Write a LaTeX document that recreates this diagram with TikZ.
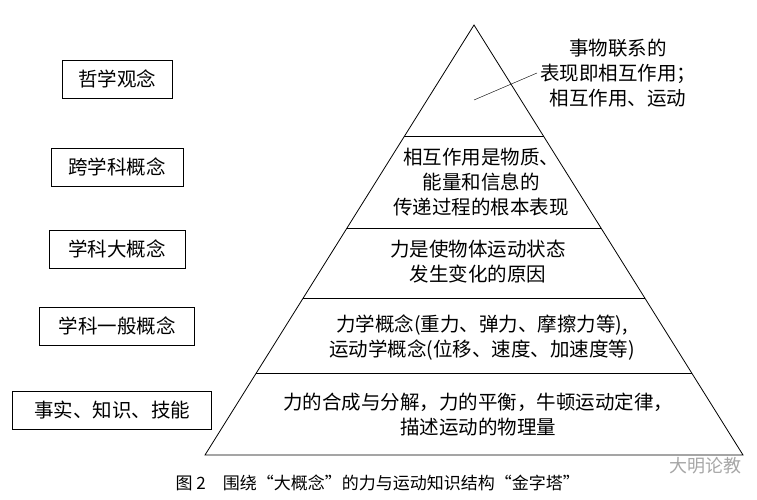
\documentclass[tikz,border=0pt]{standalone}
\usepackage{fontspec}
\usetikzlibrary{calc}
\newfontfamily\cjk{Noto Sans CJK SC}
\tikzset{lvl/.style = {draw, thick, minimum height=38pt, inner sep=2pt, font=\cjk\fontsize{19.5}{22}\selectfont},
         txt/.style = {align=center, font=\cjk\fontsize{19.5}{25}\selectfont}}
\begin{document}
\begin{tikzpicture}[x=1pt, y=-1pt]
    \useasboundingbox (0,0) rectangle (757,500);
    % pyramid
    \coordinate (top) at (474,25); \coordinate (bl) at (205,455); \coordinate (br) at (743,455);
    \draw[thick] (top) -- (bl) -- (br) -- cycle;
    \foreach \f in {0.26,0.472,0.635,0.81}
        \draw[thick] ($(top)!\f!(bl)$) -- ($(top)!\f!(br)$);
    % layer labels
    \node[lvl, minimum width=110pt] (phil) at (117,79) {哲学观念};
    \node[lvl, minimum width=132pt] (cross) at (117,167) {跨学科概念};
    \node[lvl, minimum width=136pt] (big) at (117,249) {学科大概念};
    \node[lvl, minimum width=155pt] (gen) at (117,326) {学科一般概念};
    \node[lvl, minimum width=199pt] (fact) at (112,410) {事实、知识、技能};
    % pyramid texts
    \node[txt] (t1) at (618,73) {事物联系的\\表现即相互作用；\\相互作用、运动};
    \coordinate (p) at (474,100);
    \draw (p) -- (537,73);
    \node[txt] (t2) at (481,182) {相互作用是物质、\\能量和信息的\\传递过程的根本表现};
    \node[txt] (t3) at (478,262) {力是使物体运动状态\\发生变化的原因};
    \node[txt] (t4) at (482,338) {力学概念(重力、弹力、摩擦力等),\\运动学概念(位移、速度、加速度等)};
    \node[txt] (t5) at (478,415) {力的合成与分解，力的平衡，牛顿运动定律，\\描述运动的物理量};
    % caption
    \node[font=\cjk\fontsize{17}{19}\selectfont, anchor=west] (cap) at (172,483) {图 2\quad 围绕“大概念”的力与运动知识结构“金字塔”};
    \node[font=\cjk\fontsize{18}{20}\selectfont, text=gray!70] (wm) at (705,466) {大明论教};
\end{tikzpicture}
\end{document}
